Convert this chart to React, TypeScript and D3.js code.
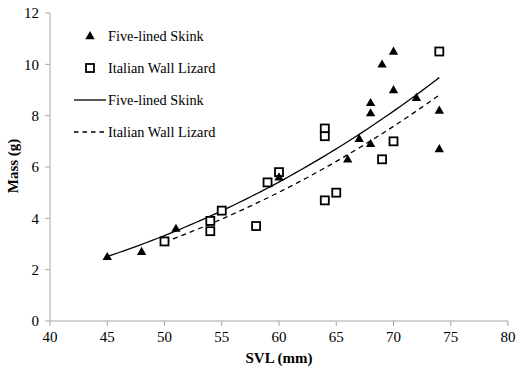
import React from 'react'
import * as d3 from 'd3'

// Five-lined Skink
const skinkSvl = [45, 48, 51, 60, 66, 67, 68, 68, 68, 69, 70, 70, 72, 74, 74]
const skinkMass = [2.5, 2.7, 3.6, 5.6, 6.3, 7.1, 6.9, 8.1, 8.5, 10.0, 10.5, 9.0, 8.7, 8.2, 6.7]

// Italian Wall Lizard
const lizardSvl = [50, 54, 54, 55, 58, 59, 60, 64, 64, 64, 65, 69, 70, 74]
const lizardMass = [3.1, 3.9, 3.5, 4.3, 3.7, 5.4, 5.8, 7.5, 7.2, 4.7, 5.0, 6.3, 7.0, 10.5]

const xTicks = [40, 45, 50, 55, 60, 65, 70, 75, 80]
const yTicks = [0, 2, 4, 6, 8, 10, 12]

const seriesNames = ['Five-lined Skink', 'Italian Wall Lizard']

const W = 516
const H = 369
const margin = { top: 13, right: 8, bottom: 48, left: 50 }
const FONT = "'Liberation Serif', 'Times New Roman', 'DejaVu Serif', serif"
const AXIS_COLOR = '#a6a6a6'

// power trendline y = a * x^b (least squares on logs, like Excel)
function powerFit (xs: number[], ys: number[]) {
  const lx = xs.map(Math.log)
  const ly = ys.map(Math.log)
  const mx = d3.mean(lx) as number
  const my = d3.mean(ly) as number
  const sxy = d3.sum(lx, (v, i) => (v - mx) * (ly[i] - my))
  const sxx = d3.sum(lx, v => (v - mx) * (v - mx))
  const b = sxy / sxx
  const a = Math.exp(my - b * mx)
  return (x: number) => a * Math.pow(x, b)
}

export default function App () {
  const width = W - margin.left - margin.right
  const height = H - margin.top - margin.bottom

  const x = d3.scaleLinear().domain([40, 80]).range([0, width])
  const y = d3.scaleLinear().domain([0, 12]).range([height, 0])

  const line = d3.line<[number, number]>()
    .x(d => x(d[0]))
    .y(d => y(d[1]))

  const trend = (xs: number[], ys: number[]) => {
    const f = powerFit(xs, ys)
    const [lo, hi] = d3.extent(xs) as [number, number]
    const pts: [number, number][] = d3.range(0, 61).map(i => {
      const v = lo + (hi - lo) * i / 60
      return [v, f(v)]
    })
    return line(pts) || ''
  }

  const tri = d3.symbol().type(d3.symbolTriangle).size(38)() || ''
  const sq = 8

  const triangle = (cx: number, cy: number, key: string) => (
    <path key={key} d={tri} transform={`translate(${cx},${cy + 0.5})`} fill='#000' />
  )
  const square = (cx: number, cy: number, key: string) => (
    <rect key={key} x={cx - sq / 2} y={cy - sq / 2} width={sq} height={sq}
      fill='#fff' stroke='#000' strokeWidth={1.8} />
  )

  const txt = { fontFamily: FONT }

  return (
    <svg width={W} height={H} style={{ position: 'absolute', left: 0, top: 0, background: '#fff', fontFamily: FONT }}>
      <g transform={`translate(${margin.left},${margin.top})`}>
        {/* axes */}
        <line x1={0} x2={width} y1={height} y2={height} stroke={AXIS_COLOR} />
        <line x1={0} x2={0} y1={0} y2={height} stroke={AXIS_COLOR} />
        {xTicks.map(t => (
          <g key={'x' + t} transform={`translate(${x(t)},${height})`}>
            <line y1={0} y2={5} stroke={AXIS_COLOR} />
            <text y={21} textAnchor='middle' fontSize={15} fill='#000' style={txt}>{t}</text>
          </g>
        ))}
        {yTicks.map(t => (
          <g key={'y' + t} transform={`translate(0,${y(t)})`}>
            <line x1={-5} x2={0} stroke={AXIS_COLOR} />
            <text x={-11} dy='0.35em' textAnchor='end' fontSize={15} fill='#000' style={txt}>{t}</text>
          </g>
        ))}

        {/* trendlines */}
        <path d={trend(skinkSvl, skinkMass)} fill='none' stroke='#000' strokeWidth={1.3} />
        <path d={trend(lizardSvl, lizardMass)} fill='none' stroke='#000' strokeWidth={1.3}
          strokeDasharray='5,4' />

        {/* points */}
        {lizardSvl.map((v, i) => square(x(v), y(lizardMass[i]), 'l' + i))}
        {skinkSvl.map((v, i) => triangle(x(v), y(skinkMass[i]), 's' + i))}
      </g>

      {/* axis titles */}
      <text x={margin.left + width / 2} y={363} textAnchor='middle' fontSize={15}
        fontWeight='bold' style={txt}>SVL (mm)</text>
      <text transform={`translate(18,${166}) rotate(-90)`} textAnchor='middle' fontSize={15}
        fontWeight='bold' style={txt}>Mass (g)</text>

      {/* legend */}
      <g fontSize={14.3}>
        {triangle(90, 36, 'lg1')}
        <text x={108} y={36} dy='0.35em' style={txt}>{seriesNames[0]}</text>
        {square(90, 68, 'lg2')}
        <text x={108} y={68} dy='0.35em' style={txt}>{seriesNames[1]}</text>
        <line x1={74} x2={106} y1={100} y2={100} stroke='#000' strokeWidth={1.3} />
        <text x={108} y={100} dy='0.35em' style={txt}>{seriesNames[0]}</text>
        <line x1={74} x2={106} y1={132} y2={132} stroke='#000' strokeWidth={1.3}
          strokeDasharray='4.5,4' />
        <text x={108} y={132} dy='0.35em' style={txt}>{seriesNames[1]}</text>
      </g>
    </svg>
  )
}
